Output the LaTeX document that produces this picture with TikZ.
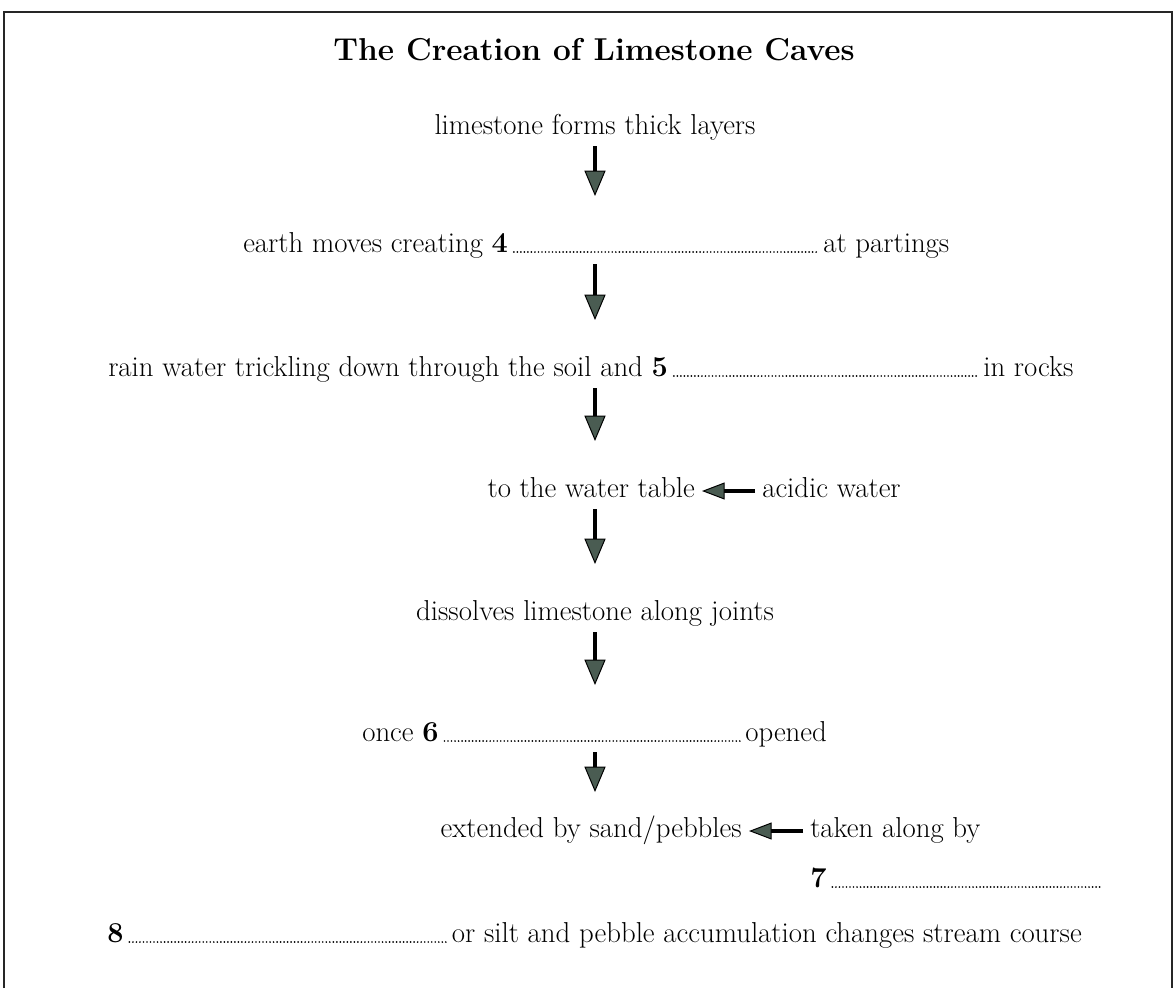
\documentclass[tikz,border=0pt]{standalone}
\usetikzlibrary{positioning,calc,arrows.meta}
\definecolor{headgray}{RGB}{74,92,82}

\begin{document}
\begin{tikzpicture}[x=0.025cm,y=-0.025cm,
  txt/.style={inner sep=0pt, font=\fontsize{20.5}{24}\selectfont},
  leader/.style={line width=1.35pt, dash pattern=on 0pt off 2.5pt, line cap=round},
  flow/.style={line width=3.4pt, -{Triangle[length=18pt, width=15pt, line width=0.7pt, fill=headgray]}},
  feed/.style={line width=3.4pt, -{Triangle[length=16pt, width=12pt, line width=0.7pt, fill=headgray]}}]
	\useasboundingbox (0,0) rectangle (1176,988);
	% ===== frame =====
	\draw[line width=1.1pt, black!85] (4,988) -- (4,12) -- (1172,12) -- (1172,988);
	
	% ===== title =====
	\node[txt, font=\fontsize{22.5}{26}\selectfont\bfseries, anchor=base] (title) at (594,60) {The Creation of Limestone Caves};
	\coordinate (ax) at (595,0);
	
	% ===== steps =====
	\node[txt, anchor=base] (l1) at (595,134) {limestone forms thick layers};
	
	\node[txt, anchor=base west] (l2a) at (243,252) {earth moves creating \textbf{4}};
	\node[txt, anchor=base west] (l2b) at (823,252) {at partings};
	
	\node[txt, anchor=base west] (l3a) at (108,376) {rain water trickling down through the soil and \textbf{5}};
	\node[txt, anchor=base west] (l3b) at (983,376) {in rocks};
	
	\node[txt, anchor=base east] (l4a) at (695,497) {to the water table};
	\node[txt, anchor=base west] (l4b) at (762,497) {acidic water};
	
	\node[txt, anchor=base] (l5) at (595,620) {dissolves limestone along joints};
	
	\node[txt, anchor=base west] (l6a) at (362,741) {once \textbf{6}};
	\node[txt, anchor=base west] (l6b) at (745,741) {opened};
	
	\node[txt, anchor=base east] (l7a) at (742,837) {extended by sand/pebbles};
	\node[txt, anchor=base west] (l7b) at (810,837) {taken along by};
	\node[txt, anchor=base west] (l7c) at (810,887) {\textbf{7}};
	\coordinate (e7) at (1100,887);
	
	\node[txt, anchor=base west] (l8a) at (107,942) {\textbf{8}};
	\node[txt, anchor=base east] (l8b) at (1082,942) {or silt and pebble accumulation changes stream course};
	
	% ===== dotted gaps =====
	\draw[leader] ([xshift=4pt]l2a.base east) -- ([xshift=-3pt]l2b.base west);
	\draw[leader] ([xshift=4pt]l3a.base east) -- ([xshift=-3pt]l3b.base west);
	\draw[leader] ([xshift=4pt]l6a.base east) -- ([xshift=-3pt]l6b.base west);
	\draw[leader] ([xshift=4pt]l7c.base east) -- (e7);
	\draw[leader] ([xshift=4pt]l8a.base east) -- ([xshift=-3pt]l8b.base west);
	
	% ===== arrows =====
	\foreach \a/\b in {l1/l2a, l2a/l3a, l3a/l4a, l4a/l5, l5/l6a}{
		\draw[flow] ($(\a.base -| ax)+(0,12)$) -- ($(\b.base -| ax)+(0,-56)$);
	}
	\draw[flow] ($(l6a.base -| ax)+(0,11)$) -- ($(l7a.base -| ax)+(0,-45)$);
	\draw[feed] ($(l4b.base west)+(-7,-6)$) -- ($(l4a.base east)+(7,-6)$);
	\draw[feed] ($(l7b.base west)+(-7,-6)$) -- ($(l7a.base east)+(7,-6)$);
	
\end{tikzpicture}
\end{document}
